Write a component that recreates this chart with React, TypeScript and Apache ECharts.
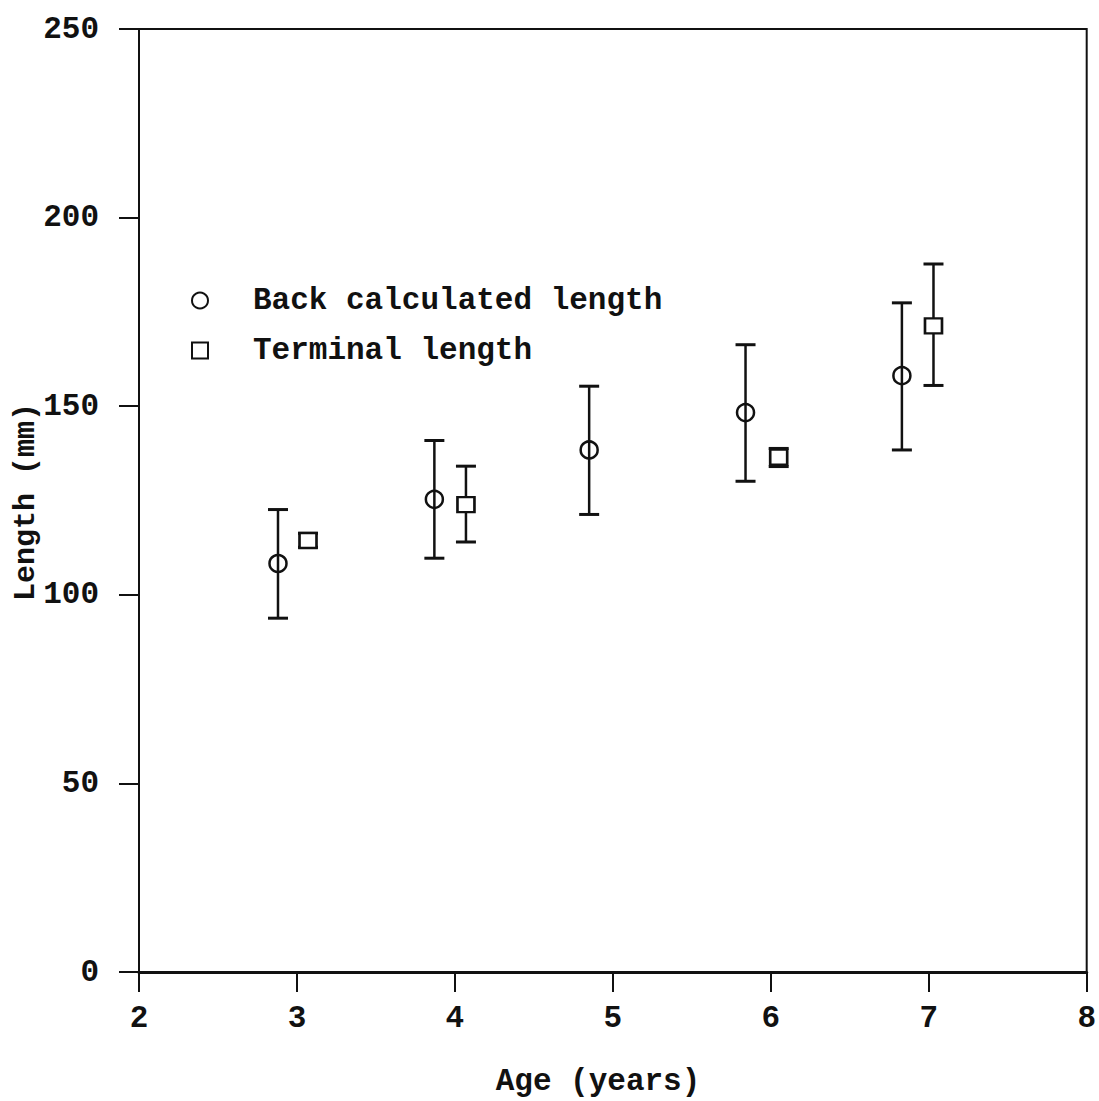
import React, { useEffect, useRef } from "react";
import * as echarts from "echarts";

const xTicks = [2, 3, 4, 5, 6, 7, 8];
const yTicks = [0, 50, 100, 150, 200, 250];

const backAge = [2.88, 3.87, 4.85, 5.84, 6.83];
const backMean = [108.3, 125.3, 138.4, 148.3, 158.1];
const backLow = [93.8, 109.7, 121.3, 130.1, 138.4];
const backHigh = [122.6, 140.9, 155.3, 166.3, 177.4];

const termAge = [3.07, 4.07, 6.05, 7.03];
const termMean = [114.4, 123.9, 136.5, 171.3];
const termLow = [112.6, 114.0, 134.0, 155.5];
const termHigh = [116.3, 134.1, 138.8, 187.7];

const FONT = "'Liberation Mono', 'DejaVu Sans Mono', monospace";
const INK = "#111111";

function errorRender(capHalf: number) {
  return (params: any, api: any) => {
    const x = api.value(0);
    const lo = api.value(1);
    const hi = api.value(2);
    const top = api.coord([x, hi]);
    const bot = api.coord([x, lo]);
    return {
      type: "group",
      children: [
        { type: "line", shape: { x1: top[0], y1: top[1], x2: bot[0], y2: bot[1] }, style: { stroke: INK, lineWidth: 2.5 } },
        { type: "line", shape: { x1: top[0] - capHalf, y1: top[1], x2: top[0] + capHalf, y2: top[1] }, style: { stroke: INK, lineWidth: 3 } },
        { type: "line", shape: { x1: bot[0] - capHalf, y1: bot[1], x2: bot[0] + capHalf, y2: bot[1] }, style: { stroke: INK, lineWidth: 3 } },
      ],
    };
  };
}

export default function App() {
  const ref = useRef<HTMLDivElement>(null);
  useEffect(() => {
    if (!ref.current) return;
    const chart = echarts.init(ref.current, null, { renderer: "svg" });
    const axisText = { fontFamily: FONT, fontWeight: "bold" as const, fontSize: 31, color: INK };
    chart.setOption({
      animation: false,
      backgroundColor: "#ffffff",
      grid: {
        left: 139,
        top: 29,
        width: 950,
        height: 943,
        show: true,
        borderColor: INK,
        borderWidth: 2,
        backgroundColor: "transparent",
      },
      xAxis: {
        type: "value",
        min: 2,
        max: 8,
        interval: 1,
        axisLine: { show: true, lineStyle: { color: INK, width: 3 } },
        axisTick: { show: true, inside: false, length: 20, lineStyle: { color: INK, width: 2 } },
        axisLabel: { ...axisText, margin: 31, formatter: (v: number) => (xTicks.includes(v) ? String(v) : "") },
        splitLine: { show: false },
      },
      yAxis: {
        type: "value",
        min: 0,
        max: 250,
        interval: 50,
        axisLine: { show: true, lineStyle: { color: INK, width: 2 } },
        axisTick: { show: true, inside: false, length: 20, lineStyle: { color: INK, width: 2 } },
        axisLabel: { ...axisText, margin: 40, formatter: (v: number) => (yTicks.includes(v) ? String(v) : "") },
        splitLine: { show: false },
      },
      legend: {
        orient: "vertical",
        left: 186,
        top: 280,
        itemWidth: 16,
        itemHeight: 16,
        itemGap: 19,
        data: ["Back calculated length", "Terminal length"],
        textStyle: { ...axisText, fontSize: 31, lineHeight: 30, padding: [0, 0, 0, 40] },
      },
      graphic: [
        {
          type: "text",
          x: 26,
          y: 502,
          rotation: Math.PI / 2,
          style: {
            text: "Length (mm)",
            font: `bold 30px ${FONT}`,
            fill: INK,
            align: "center",
            verticalAlign: "middle",
          },
        },
        {
          type: "text",
          x: 598,
          y: 1081,
          style: {
            text: "Age (years)",
            font: `bold 31px ${FONT}`,
            fill: INK,
            align: "center",
            verticalAlign: "middle",
          },
        },
      ],
      series: [
        {
          type: "custom",
          name: "backErr",
          renderItem: errorRender(10),
          data: backAge.map((a, i) => [a, backLow[i], backHigh[i]]),
          z: 2,
        },
        {
          type: "custom",
          name: "termErr",
          renderItem: errorRender(10),
          data: termAge.map((a, i) => [a, termLow[i], termHigh[i]]),
          z: 2,
        },
        {
          type: "scatter",
          name: "Back calculated length",
          symbol: "circle",
          symbolSize: 17,
          itemStyle: { color: "transparent", borderColor: INK, borderWidth: 2.5, opacity: 1 },
          data: backAge.map((a, i) => [a, backMean[i]]),
          z: 3,
        },
        {
          type: "scatter",
          name: "Terminal length",
          symbol: "rect",
          symbolSize: [17, 15],
          itemStyle: { color: "#ffffff", borderColor: INK, borderWidth: 2.5, opacity: 1 },
          data: termAge.map((a, i) => [a, termMean[i]]),
          z: 3,
        },
      ],
    });
    return () => chart.dispose();
  }, []);
  return <div ref={ref} style={{ width: 1099, height: 1101, position: "absolute", left: 0, top: 0 }} />;
}
